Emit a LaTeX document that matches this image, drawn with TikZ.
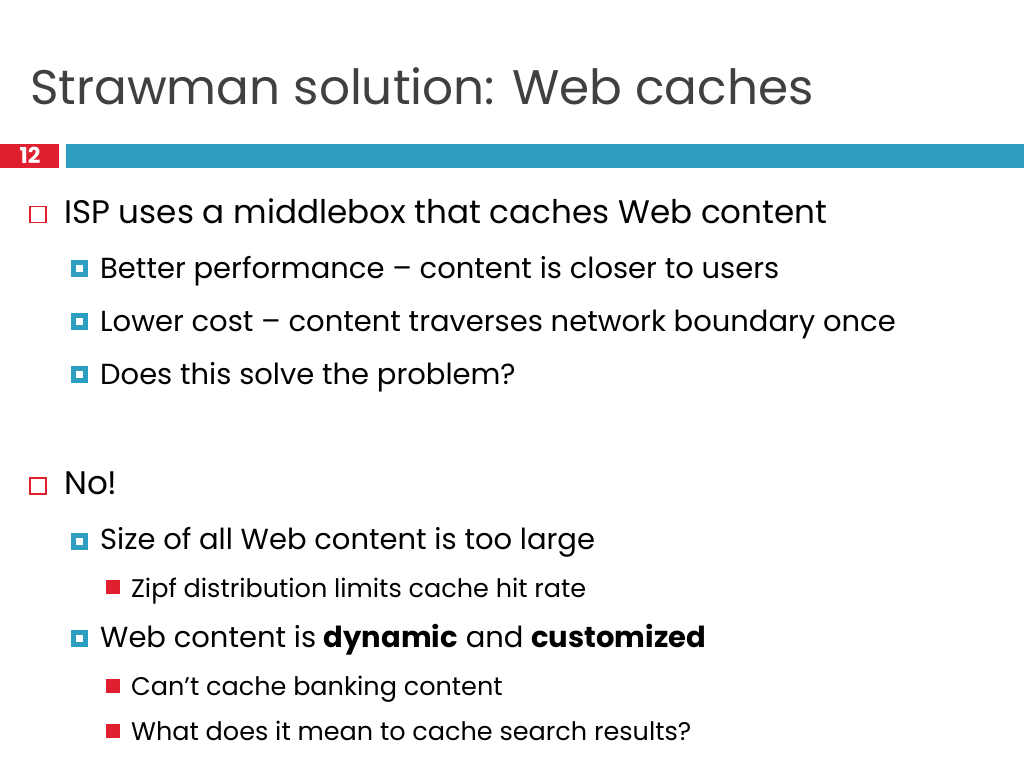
\documentclass[tikz,border=0pt]{standalone}
\usepackage{fontspec}
\setmainfont{Poppins}
\definecolor{slred}{HTML}{DF1F2D}
\definecolor{slblue}{HTML}{2E9FC0}
\definecolor{sltitle}{HTML}{404040}
\tikzset{
  titletext/.style={anchor=base west,inner sep=0,text=sltitle,font=\fontsize{48.5}{56}\selectfont},
  lone/.style={anchor=base west,inner sep=0,font=\fontsize{32.6}{38}\selectfont},
  ltwo/.style={anchor=base west,inner sep=0,font=\fontsize{29}{34}\selectfont},
  lthree/.style={anchor=base west,inner sep=0,font=\fontsize{25.5}{30}\selectfont},
  bulone/.style={draw=slred,line width=1.3pt,minimum size=16pt,inner sep=0,fill=white},
  bultwo/.style={draw=slblue,line width=5pt,minimum size=12pt,inner sep=0,fill=white},
  bulthree/.style={fill=slred,minimum size=14pt,inner sep=0},
}
\begin{document}
\begin{tikzpicture}[x=1pt,y=-1pt]
\useasboundingbox[fill=white] (0,0) rectangle (1024,768);
\node[titletext] (title) at (30,104) {Strawman solution: Web caches};
\fill[slred] (0,144) rectangle (59,168);
\fill[slblue] (66,144) rectangle (1024,168);
\node[text=white,anchor=base,font=\bfseries\fontsize{22}{26}\selectfont,inner sep=0] (num) at (30,163.5) {12};
% level 1
\node[bulone] (b1) at (38,214.5) {};
\node[lone] (t1) at (64,223) {ISP uses a middlebox that caches Web content};
\node[bultwo] (b2) at (79.5,268) {};
\node[ltwo] (t2) at (100,278) {Better performance – content is closer to users};
\node[bultwo] (b3) at (79.5,321) {};
\node[ltwo] (t3) at (100,331) {Lower cost – content traverses network boundary once};
\node[bultwo] (b4) at (79.5,374) {};
\node[ltwo] (t4) at (100,384) {Does this solve the problem?};
\node[bulone] (b5) at (38,486) {};
\node[lone] (t5) at (64,494) {No!};
\node[bultwo] (b6) at (79.5,541) {};
\node[ltwo] (t6) at (100,549) {Size of all Web content is too large};
\node[bulthree] (b7) at (113,587) {};
\node[lthree] (t7) at (131,597) {Zipf distribution limits cache hit rate};
\node[bultwo] (b8) at (79.5,638) {};
\node[ltwo] (t8) at (100,647) {Web content is \textbf{dynamic} and \textbf{customized}};
\node[bulthree] (b9) at (113,686) {};
\node[lthree] (t9) at (131,695) {Can’t cache banking content};
\node[bulthree] (b10) at (113,731) {};
\node[lthree] (t10) at (131,740) {What does it mean to cache search results?};
\end{tikzpicture}
\end{document}
